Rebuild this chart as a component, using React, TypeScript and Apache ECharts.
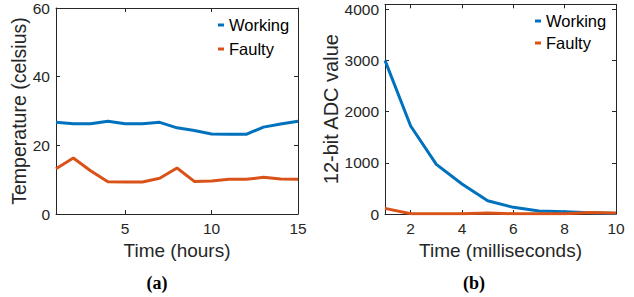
import React, { useEffect, useRef } from "react";
import * as echarts from "echarts";

const hours = [1, 2, 3, 4, 5, 6, 7, 8, 9, 10, 11, 12, 13, 14, 15];
const tempWorking = [26.7, 26.3, 26.3, 27.0, 26.3, 26.3, 26.7, 25.1, 24.3, 23.3, 23.2, 23.2, 25.3, 26.2, 27.0];
const tempFaulty = [13.2, 16.3, 12.6, 9.4, 9.3, 9.3, 10.4, 13.4, 9.5, 9.6, 10.1, 10.1, 10.7, 10.2, 10.1];

const ms = [1, 2, 3, 4, 5, 6, 7, 8, 9, 10];
const adcWorking = [3000, 1719, 970, 586, 260, 130, 59, 45, 25, 10];
const adcFaulty = [110, 5, 5, 5, 20, 5, 5, 5, 30, 20];

const xTicksA = [5, 10, 15];
const yTicksA = [0, 20, 40, 60];
const xTicksB = [2, 4, 6, 8, 10];
const yTicksB = [0, 1000, 2000, 3000, 4000];

const BLUE = "#0072BD";
const ORANGE = "#D95319";
const AX = "#262626";
const FONT = "'Liberation Sans', Arial, Helvetica, sans-serif";

function zip(xs: number[], ys: number[]) {
  return xs.map((x, i) => [x, ys[i]]);
}

function mkAxis(
  gridIndex: number,
  min: number,
  max: number,
  ticks: number[],
  position: string,
  labels: boolean,
  extra: any = {}
) {
  return {
    type: "value",
    gridIndex,
    min,
    max,
    position,
    splitLine: { show: false },
    axisLine: { show: true, onZero: false, lineStyle: { color: AX, width: 1 } },
    axisTick: { show: true, inside: true, length: 4, customValues: ticks, lineStyle: { color: AX } },
    axisLabel: {
      show: labels,
      customValues: ticks,
      color: AX,
      fontSize: 15.5,
      fontFamily: FONT,
      margin: 6,
      formatter: (v: number) => String(v),
    },
    ...extra,
  };
}

export default function App() {
  const ref = useRef<HTMLDivElement>(null);
  useEffect(() => {
    if (!ref.current) return;
    const chart = echarts.init(ref.current, null, { renderer: "svg" });
    const nameStyle = (s: number) => ({ color: AX, fontSize: s, fontFamily: FONT });
    const legendText = { color: "#000", fontSize: 16.5, fontFamily: FONT, lineHeight: 18 };
    chart.setOption({
      animation: false,
      backgroundColor: "#ffffff",
      grid: [
        { left: 56, top: 7, width: 242, height: 207, containLabel: false },
        { left: 385, top: 4.3, width: 231, height: 209.7, containLabel: false },
      ],
      xAxis: [
        mkAxis(0, 1, 15, xTicksA, "bottom", true, {
          name: "Time (hours)",
          nameLocation: "middle",
          nameGap: 25,
          nameTextStyle: nameStyle(19),
        }),
        mkAxis(0, 1, 15, xTicksA, "top", false),
        mkAxis(1, 1, 10, xTicksB, "bottom", true, {
          name: "Time (milliseconds)",
          nameLocation: "middle",
          nameGap: 25,
          nameTextStyle: nameStyle(19),
        }),
        mkAxis(1, 1, 10, xTicksB, "top", false),
      ],
      yAxis: [
        mkAxis(0, 0, 60, yTicksA, "left", true, {
          name: "Temperature (celsius)",
          nameLocation: "middle",
          nameGap: 23,
          nameTextStyle: nameStyle(19.5),
        }),
        mkAxis(0, 0, 60, yTicksA, "right", false),
        mkAxis(1, 0, 4096, yTicksB, "left", true, {
          name: "12-bit ADC value",
          nameLocation: "middle",
          nameGap: 38,
          nameTextStyle: nameStyle(20),
        }),
        mkAxis(1, 0, 4096, yTicksB, "right", false),
      ],
      legend: [
        {
          orient: "vertical",
          left: 213,
          top: 11,
          padding: 5,
          itemWidth: 6,
          itemHeight: 3,
          itemGap: 6,
          icon: "rect",
          data: ["Working", "Faulty"],
          textStyle: legendText,
        },
        {
          orient: "vertical",
          left: 530,
          top: 7,
          padding: 5,
          itemWidth: 6,
          itemHeight: 3,
          itemGap: 4,
          icon: "rect",
          data: ["Working ", "Faulty "],
          textStyle: legendText,
          formatter: (n: string) => n.trim(),
        },
      ],
      series: [
        {
          name: "Working",
          type: "line",
          xAxisIndex: 0,
          yAxisIndex: 0,
          data: zip(hours, tempWorking),
          showSymbol: false,
          lineStyle: { color: BLUE, width: 3 },
          itemStyle: { color: BLUE },
        },
        {
          name: "Faulty",
          type: "line",
          xAxisIndex: 0,
          yAxisIndex: 0,
          data: zip(hours, tempFaulty),
          showSymbol: false,
          lineStyle: { color: ORANGE, width: 3 },
          itemStyle: { color: ORANGE },
        },
        {
          name: "Working ",
          type: "line",
          xAxisIndex: 2,
          yAxisIndex: 2,
          data: zip(ms, adcWorking),
          showSymbol: false,
          lineStyle: { color: BLUE, width: 3 },
          itemStyle: { color: BLUE },
        },
        {
          name: "Faulty ",
          type: "line",
          xAxisIndex: 2,
          yAxisIndex: 2,
          data: zip(ms, adcFaulty),
          showSymbol: false,
          lineStyle: { color: ORANGE, width: 3 },
          itemStyle: { color: ORANGE },
        },
      ],
      graphic: [
        {
          type: "text",
          x: 157,
          y: 283,
          style: {
            text: "(a)",
            fill: "#000",
            font: "bold 18px 'Liberation Serif', 'DejaVu Serif', serif",
            textAlign: "center",
            textVerticalAlign: "middle",
          },
        },
        {
          type: "text",
          x: 474,
          y: 283,
          style: {
            text: "(b)",
            fill: "#000",
            font: "bold 18px 'Liberation Serif', 'DejaVu Serif', serif",
            textAlign: "center",
            textVerticalAlign: "middle",
          },
        },
      ],
    });
    return () => chart.dispose();
  }, []);
  return <div ref={ref} style={{ width: 634, height: 297, position: "absolute", left: 0, top: 0 }} />;
}
